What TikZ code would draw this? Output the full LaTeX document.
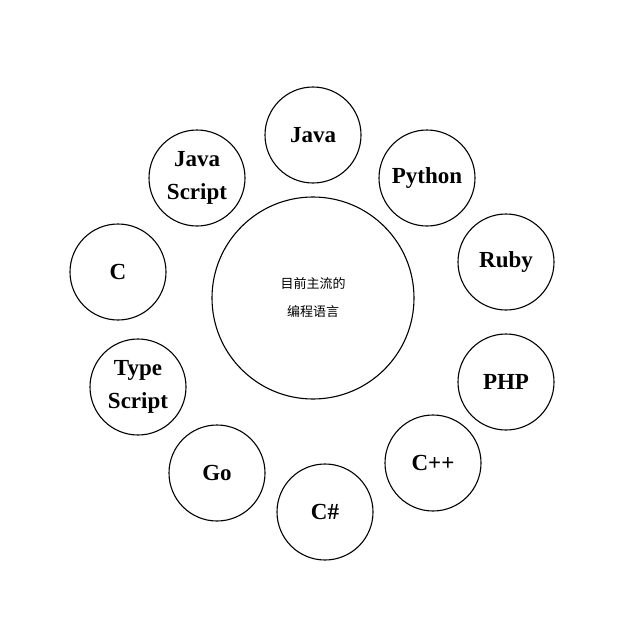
\documentclass[tikz,border=0pt]{standalone}
\usepackage{fontspec}
\setmainfont{Liberation Serif}
\newfontfamily\cjk{Noto Sans CJK SC}
\begin{document}
\begin{tikzpicture}[x=1pt,y=-1pt,line join=bevel,
  lang/.style={draw,circle,line width=1.1pt,minimum size=96pt,inner sep=0pt,align=center,
    font=\fontsize{23}{33}\selectfont\bfseries},
  hub/.style={draw,circle,line width=1.1pt,minimum size=202pt,inner sep=0pt,align=center,
    font=\cjk\fontsize{13}{28}\selectfont}]
\useasboundingbox (0,0) rectangle (640,640);
%%
\node (hub) at (313,298) [hub] {目前主流的\\编程语言};
\node (java) at (313,135) [lang] {Java};
\node (python) at (427,178) [lang] {Python};
\node (ruby) at (506,262) [lang] {Ruby};
\node (php) at (506,382) [lang] {PHP};
\node (cpp) at (433,463) [lang] {C++};
\node (csharp) at (325,512) [lang] {C\#};
\node (go) at (217,473) [lang] {Go};
\node (ts) at (138,387) [lang] {Type\\Script};
\node (c) at (118,272) [lang] {C};
\node (js) at (197,178) [lang] {Java\\Script};
%
\end{tikzpicture}
\end{document}
